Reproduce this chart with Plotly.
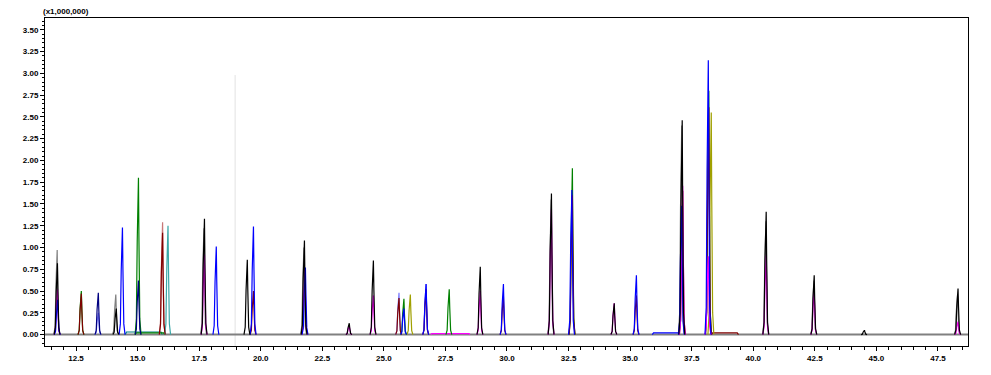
import plotly.graph_objects as go

# ---- data: retention time (min) and intensity (x1,000,000) per ion trace ----
black_rt = [11.73, 14.12, 17.70, 19.44, 21.76, 23.58, 24.56, 28.90, 31.79, 34.34, 37.10, 40.51, 42.46, 44.50, 48.30]
black_h = [0.82, 0.30, 1.33, 0.86, 1.08, 0.13, 0.85, 0.78, 1.62, 0.36, 2.46, 1.41, 0.68, 0.05, 0.53]

gray_rt = [11.72, 14.10, 17.68, 21.74, 31.78, 37.08, 40.50, 42.45, 48.28]
gray_h = [0.97, 0.46, 1.22, 1.00, 1.55, 2.40, 1.30, 0.62, 0.45]

magenta_rt = [11.73, 17.70, 21.78, 23.58, 24.56, 28.90, 31.79, 34.34, 37.12, 38.16, 40.51, 42.46, 48.30]
magenta_h = [0.52, 0.92, 0.75, 0.10, 0.45, 0.50, 1.44, 0.36, 1.71, 0.90, 0.91, 0.50, 0.15]

darkred_rt = [12.70, 16.00, 19.69, 25.60, 26.70, 29.84, 32.64, 35.24, 37.12, 38.18]
darkred_h = [0.47, 1.17, 0.50, 0.42, 0.52, 0.44, 1.60, 0.45, 1.65, 2.61]

blue_rt = [11.74, 14.37, 18.18, 19.69, 21.80, 25.80, 26.70, 29.84, 32.62, 35.24, 37.08, 38.16]
blue_h = [0.40, 1.23, 1.01, 1.24, 0.77, 0.30, 0.58, 0.58, 1.66, 0.68, 1.48, 3.15]

navy_rt = [13.39, 15.02, 37.10]
navy_h = [0.48, 0.62, 1.20]

green_rt = [12.70, 15.02, 25.80, 27.64, 32.64, 38.18]
green_h = [0.50, 1.80, 0.41, 0.52, 1.91, 2.80]

olive_rt = [26.06, 38.28]
olive_h = [0.46, 2.55]

rosy_rt = [16.00]
rosy_h = [1.29]

teal_rt = [16.22]
teal_h = [1.25]

slate_rt = [13.39, 25.60, 26.70]
slate_h = [0.25, 0.48, 0.58]

# low plateaus: (start, end, level)
plateau_start = [14.50, 14.90, 26.90, 35.90, 38.30]
plateau_end = [16.00, 16.10, 28.50, 37.00, 39.40]
plateau_level = [0.03, 0.02, 0.01, 0.02, 0.02]
plateau_color = ["#008080", "#008000", "#ff00ff", "#0000ff", "#800000"]

y_ticks = [0.0, 0.25, 0.5, 0.75, 1.0, 1.25, 1.5, 1.75, 2.0, 2.25, 2.5, 2.75, 3.0, 3.25, 3.5]
x_ticks = [12.5, 15.0, 17.5, 20.0, 22.5, 25.0, 27.5, 30.0, 32.5, 35.0, 37.5, 40.0, 42.5, 45.0, 47.5]
marker_line_rt = 18.96
marker_line_top = 2.98

X_MIN, X_MAX = 11.24, 48.72
Y_MIN, Y_MAX = -0.131, 3.635

# peak drawing template (shape style only)
OFFS = [-0.12, -0.07, -0.035, -0.015, 0.015, 0.035, 0.07, 0.12]
REL = [0.0, 0.1, 0.6, 1.0, 1.0, 0.6, 0.1, 0.0]


def peak_path(rts, hs):
    xs, ys = [], []
    for rt, h in sorted(zip(rts, hs)):
        for o, r in zip(OFFS, REL):
            xs.append(rt + o)
            ys.append(h * r)
        xs.append(None)
        ys.append(None)
    return xs, ys


fig = go.Figure()

# baseline
fig.add_trace(go.Scatter(x=[X_MIN, X_MAX], y=[0, 0], mode="lines",
                         line=dict(color="#808080", width=2), hoverinfo="skip"))

for s, e, lv, c in zip(plateau_start, plateau_end, plateau_level, plateau_color):
    fig.add_trace(go.Scatter(x=[s, s + 0.05, e - 0.05, e], y=[0, lv, lv, 0], mode="lines",
                             line=dict(color=c, width=1.2), hoverinfo="skip"))

series = [
    (slate_rt, slate_h, "#7b7bff"),
    (rosy_rt, rosy_h, "#c87878"),
    (teal_rt, teal_h, "#3aa8a8"),
    (olive_rt, olive_h, "#a0a000"),
    (green_rt, green_h, "#008000"),
    (darkred_rt, darkred_h, "#800000"),
    (navy_rt, navy_h, "#000080"),
    (gray_rt, gray_h, "#808080"),
    (magenta_rt, magenta_h, "#ff00ff"),
    (blue_rt, blue_h, "#0000ff"),
    (black_rt, black_h, "#000000"),
]
for rts, hs, col in series:
    xs, ys = peak_path(rts, hs)
    fig.add_trace(go.Scatter(x=xs, y=ys, mode="lines", line=dict(color=col, width=1.2),
                             connectgaps=False, hoverinfo="skip"))

fig.add_shape(type="line", xref="x", yref="y", x0=marker_line_rt, x1=marker_line_rt,
              y0=Y_MIN, y1=marker_line_top, line=dict(color="#e2e2e2", width=1), layer="below")

tickfont = dict(family="Liberation Sans", size=8, color="black", weight="bold")

fig.update_layout(
    width=991, height=375,
    margin=dict(l=45, r=23, t=18, b=26),
    paper_bgcolor="white", plot_bgcolor="white",
    showlegend=False,
    xaxis=dict(range=[X_MIN, X_MAX], tickvals=x_ticks, ticktext=[f"{v:.1f}" for v in x_ticks],
               showgrid=False, zeroline=False, showline=True, linecolor="black", linewidth=1,
               mirror=True, ticks="outside", ticklen=4, tickcolor="black", tickfont=tickfont,
               minor=dict(dtick=0.5, tick0=12.5, ticks="outside", ticklen=3, tickcolor="black")),
    yaxis=dict(range=[Y_MIN, Y_MAX], tickvals=y_ticks, ticktext=[f"{v:.2f}" for v in y_ticks],
               showgrid=False, zeroline=False, showline=True, linecolor="black", linewidth=1,
               mirror=True, ticks="outside", ticklen=4, tickcolor="black", tickfont=tickfont,
               minor=dict(dtick=0.05, tick0=0, ticks="outside", ticklen=2, tickcolor="black")),
    annotations=[dict(text="(x1,000,000)", xref="paper", yref="paper", x=-0.004, y=1.0,
                      xanchor="left", yanchor="bottom", showarrow=False,
                      font=dict(family="Liberation Sans", size=8, color="black", weight="bold"))],
)

fig.write_html("out.html")
